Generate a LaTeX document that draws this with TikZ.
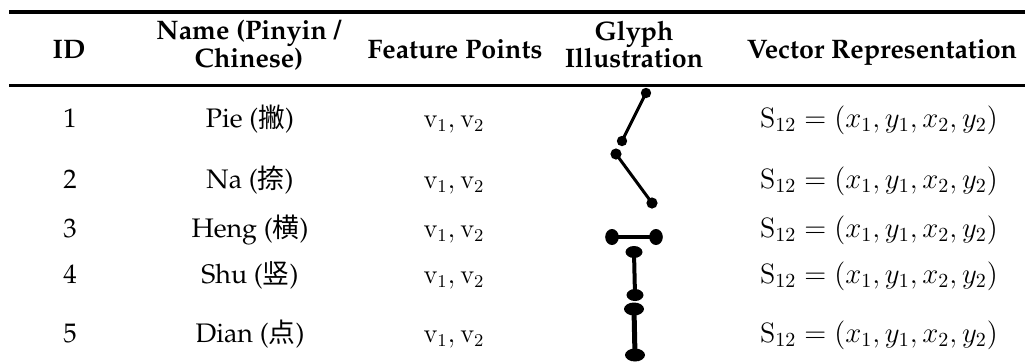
\documentclass[tikz,border=0pt]{standalone}
\usepackage[T1]{fontenc}
\usepackage{fontspec}
\newfontfamily\cjk{Noto Sans CJK SC}
\usetikzlibrary{shapes.geometric}
\newcommand\palreg{\fontencoding{T1}\fontfamily{ppl}\fontseries{m}\selectfont}
\newcommand\palbold{\fontencoding{T1}\fontfamily{ppl}\fontseries{b}\selectfont}
\tikzset{
  cell/.style={anchor=base, inner sep=0pt, font=\fontsize{13.4}{15}\palreg},
  mathcell/.style={anchor=base, inner sep=0pt, font=\fontsize{14}{16}\palreg},
  head/.style={anchor=base, inner sep=0pt, font=\fontsize{13.4}{15}\palbold},
  rulethick/.style={line width=1.8pt},
  rulethin/.style={line width=1.5pt},
  blob/.style={ellipse, fill=black, draw=none, inner sep=0pt},
  bar/.style={line width=#1, black},
}
\begin{document}
\begin{tikzpicture}[x=0.5pt, y=-0.5pt]
\useasboundingbox (0,0) rectangle (1025,361);
% table rules
\coordinate (tl) at (9,12);   \coordinate (tr) at (1025,12);
\coordinate (ml) at (9,85.5); \coordinate (mr) at (1025,85.5);
\draw[rulethick] (tl) -- (tr);
\draw[rulethin] (ml) -- (mr);
% header
\node[head] (hID) at (69,58) {ID};
\node[head] (hName1) at (249,39.5) {Name (Pinyin /};
\node[head] (hName2) at (249,67) {Chinese)};
\node[head] (hFeat) at (455,58) {Feature Points};
\node[head] (hGly1) at (634,40) {Glyph};
\node[head] (hGly2) at (634,67) {Illustration};
\node[head] (hVec) at (882,58) {Vector Representation};
% rows
\foreach \i/\y/\nm/\zh in {1/127/Pie/撇, 2/188/Na/捺, 3/237/Heng/横, 4/283/Shu/竖, 5/342/Dian/点}{
  \node[cell] (id\i) at (70,\y) {\i};
  \node[cell] (name\i) at (250,\y) {\nm\ ({\cjk\zh})};
  \node[cell] (fp\i) at (454,\y) {$\mathrm{v}_1,\mathrm{v}_2$};
  \node[mathcell] (vec\i) at (879,\y) {$\mathrm{S}_{12}=(x_1,y_1,x_2,y_2)$};
}
% stroke glyphs
\node[blob, minimum width=5.2pt, minimum height=5.2pt] (pieA) at (646,93) {};
\node[blob, minimum width=5.2pt, minimum height=5.2pt] (pieB) at (622,141) {};
\draw[bar=1.5pt] (pieA.center) -- (pieB.center);
\node[blob, minimum width=5.6pt, minimum height=5.6pt] (naA) at (616,154) {};
\node[blob, minimum width=5.6pt, minimum height=5.6pt] (naB) at (652,203) {};
\draw[bar=1.5pt] (naA.center) -- (naB.center);
\node[blob, minimum width=6.8pt, minimum height=8pt] (hengA) at (612,237) {};
\node[blob, minimum width=6.8pt, minimum height=8pt] (hengB) at (656,237) {};
\draw[bar=1.8pt] (hengA.center) -- (hengB.center);
\node[blob, minimum width=8.5pt, minimum height=6pt] (shuA) at (634,252) {};
\node[blob, minimum width=8.5pt, minimum height=6pt] (shuB) at (635,295) {};
\draw[bar=2pt] (shuA.center) -- (shuB.center);
\node[blob, minimum width=10pt, minimum height=6.5pt] (dianA) at (634,309) {};
\node[blob, minimum width=10pt, minimum height=6.5pt] (dianB) at (635,355) {};
\draw[bar=2.5pt] (dianA.center) -- (dianB.center);
\end{tikzpicture}
\end{document}
